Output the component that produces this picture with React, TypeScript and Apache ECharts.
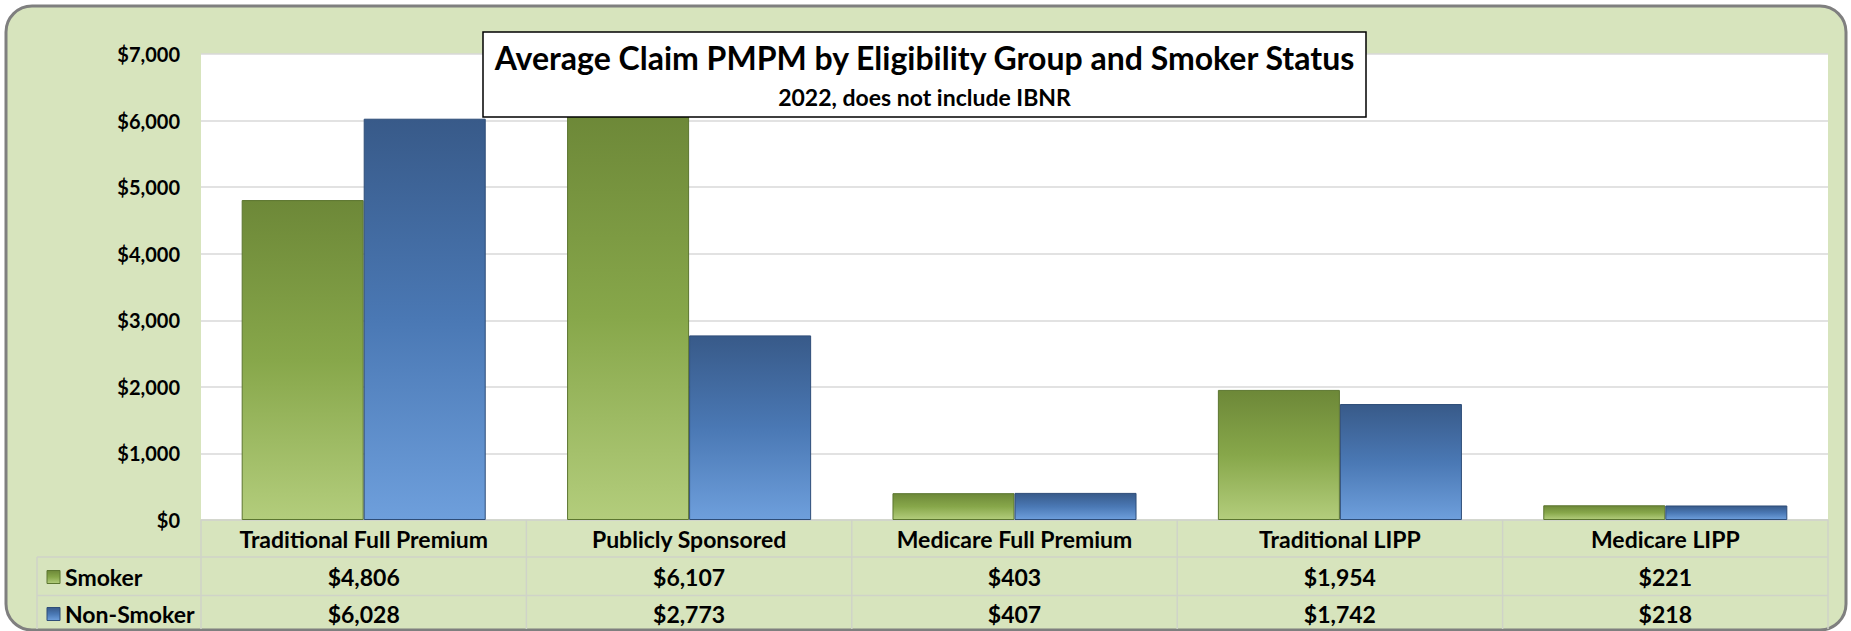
import React, { useEffect, useRef } from "react";
import * as echarts from "echarts";

const categories = [
  "Traditional Full Premium",
  "Publicly Sponsored",
  "Medicare Full Premium",
  "Traditional LIPP",
  "Medicare LIPP",
];
const seriesNames = ["Smoker", "Non-Smoker"];
const smoker = [4806, 6107, 403, 1954, 221];
const nonSmoker = [6028, 2773, 407, 1742, 218];
const yMax = 7000;
const yInterval = 1000;
const titleText = "Average Claim PMPM by Eligibility Group and Smoker Status";
const subtitleText = "2022, does not include IBNR";

const fmt = (v: number) => "$" + v.toLocaleString("en-US");
const FONT = "Lato, 'Liberation Sans', sans-serif";

const GRID = { left: 201, top: 54, width: 1627, height: 466 };

export default function App() {
  const ref = useRef<HTMLDivElement>(null);
  useEffect(() => {
    if (!ref.current) return;
    const chart = echarts.init(ref.current, undefined, { renderer: "svg" });
    const gl = GRID.left;
    const gr = GRID.left + GRID.width;
    const gb = GRID.top + GRID.height;
    const band = GRID.width / categories.length;
    const rowLines = [557, 595.5];
    const rowCenters = [577, 614];
    const tableLeft = 37;
    const tableBottom = 629;
    const lineStyle = { stroke: "#cfd3c8", lineWidth: 1.5 };

    const makeGreen = () =>
      new echarts.graphic.LinearGradient(0, 0, 0, 1, [
        { offset: 0, color: "#6d8838" },
        { offset: 0.5, color: "#87a74a" },
        { offset: 1, color: "#b3cd7c" },
      ]);
    const makeBlue = () =>
      new echarts.graphic.LinearGradient(0, 0, 0, 1, [
        { offset: 0, color: "#385a89" },
        { offset: 0.5, color: "#4a78b4" },
        { offset: 1, color: "#6e9fdc" },
      ]);
    const seriesColors = [makeGreen, makeBlue];
    const seriesBorders = ["#5c7630", "#2e4d78"];

    const tableEls: any[] = [];
    rowLines.forEach((y) =>
      tableEls.push({
        type: "line",
        shape: { x1: tableLeft, y1: y, x2: gr, y2: y },
        style: lineStyle,
        z: 5,
      })
    );
    tableEls.push({
      type: "line",
      shape: { x1: tableLeft, y1: rowLines[0], x2: tableLeft, y2: tableBottom },
      style: lineStyle,
      z: 5,
    });
    for (let i = 0; i <= categories.length; i++) {
      const x = gl + band * i;
      tableEls.push({
        type: "line",
        shape: { x1: x, y1: gb, x2: x, y2: tableBottom },
        style: lineStyle,
        z: 5,
      });
    }
    seriesNames.forEach((name, i) => {
      const cy = rowCenters[i];
      tableEls.push({
        type: "rect",
        shape: { x: 47, y: cy - 6.5, width: 13, height: 13 },
        style: { fill: seriesColors[i](), stroke: seriesBorders[i], lineWidth: 1 },
        z: 6,
      });
      tableEls.push({
        type: "text",
        x: 65,
        y: cy,
        style: {
          text: name,
          fontFamily: FONT,
          fontWeight: "bold",
          fontSize: 23,
          fill: "#000",
          align: "left",
          verticalAlign: "middle",
        },
        z: 6,
      });
    });

    const axisLabelBase = {
      fontFamily: FONT,
      fontWeight: "bold" as const,
      fontSize: 23,
      color: "#000",
      verticalAlign: "middle" as const,
    };

    chart.setOption({
      animation: false,
      grid: {
        left: GRID.left,
        top: GRID.top,
        width: GRID.width,
        height: GRID.height,
        show: true,
        backgroundColor: "#ffffff",
        borderWidth: 0,
        containLabel: false,
      },
      xAxis: [
        {
          type: "category",
          data: categories,
          position: "bottom",
          axisLine: { show: true, lineStyle: { color: "#cfd3c8", width: 1.5 } },
          axisTick: { show: false },
          axisLabel: { ...axisLabelBase, margin: 19, interval: 0 },
          splitLine: { show: false },
        },
        {
          type: "category",
          data: smoker.map(fmt),
          position: "bottom",
          offset: 37,
          axisLine: { show: false },
          axisTick: { show: false },
          axisLabel: { ...axisLabelBase, margin: 20, interval: 0 },
        },
        {
          type: "category",
          data: nonSmoker.map(fmt),
          position: "bottom",
          offset: 75.5,
          axisLine: { show: false },
          axisTick: { show: false },
          axisLabel: { ...axisLabelBase, margin: 18.5, interval: 0 },
        },
      ],
      yAxis: {
        type: "value",
        min: 0,
        max: yMax,
        interval: yInterval,
        axisLine: { show: false },
        axisTick: { show: false },
        axisLabel: {
          fontFamily: FONT,
          fontWeight: "bold",
          fontSize: 20,
          color: "#000",
          margin: 21,
          formatter: (v: number) => fmt(v),
        },
        splitLine: { show: true, lineStyle: { color: "#d9d9d9", width: 1.5 } },
      },
      series: [
        {
          name: seriesNames[0],
          type: "bar",
          xAxisIndex: 0,
          data: smoker,
          barGap: "0%",
          barCategoryGap: "25%",
          itemStyle: { color: makeGreen(), borderColor: seriesBorders[0], borderWidth: 1 },
        },
        {
          name: seriesNames[1],
          type: "bar",
          xAxisIndex: 0,
          data: nonSmoker,
          barGap: "0%",
          barCategoryGap: "25%",
          itemStyle: { color: makeBlue(), borderColor: seriesBorders[1], borderWidth: 1 },
        },
      ],
      graphic: [
        {
          type: "rect",
          shape: { x: 6, y: 6, width: 1840, height: 624, r: 26 },
          style: { fill: "#d7e4bd", stroke: "#7f7f7f", lineWidth: 3 },
          z: -10,
          silent: true,
        },
        ...tableEls,
        {
          type: "rect",
          shape: { x: 483, y: 32, width: 883, height: 85 },
          style: { fill: "#ffffff", stroke: "#000000", lineWidth: 1.5 },
          z: 100,
        },
        {
          type: "text",
          x: 924.5,
          y: 57,
          style: {
            text: titleText,
            fontFamily: FONT,
            fontWeight: "bold",
            fontSize: 32,
            fill: "#000",
            align: "center",
            verticalAlign: "middle",
          },
          z: 101,
        },
        {
          type: "text",
          x: 924.5,
          y: 97,
          style: {
            text: subtitleText,
            fontFamily: FONT,
            fontWeight: "bold",
            fontSize: 23,
            fill: "#000",
            align: "center",
            verticalAlign: "middle",
          },
          z: 101,
        },
      ],
    });
    return () => chart.dispose();
  }, []);
  return (
    <div
      ref={ref}
      style={{ position: "absolute", left: 0, top: 0, width: 1851, height: 631, background: "#fff" }}
    />
  );
}
